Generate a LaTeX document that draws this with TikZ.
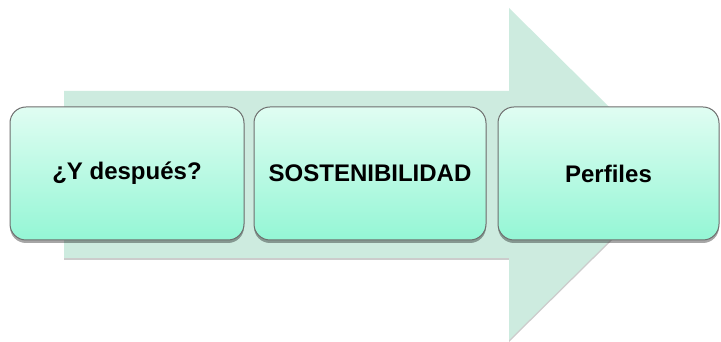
\documentclass[tikz,border=0pt]{standalone}
\usepackage{fontspec}
\setmainfont{Liberation Sans}
\usetikzlibrary{shadows}
\definecolor{arrowfill}{HTML}{CDEBDF}
\definecolor{boxtop}{HTML}{E0FDF2}
\definecolor{boxbot}{HTML}{94F6D5}
\definecolor{boxline}{HTML}{6E6E6E}
\tikzset{
  stagebox/.style={draw=boxline, line width=1pt, rounded corners=16pt,
    top color=boxtop, bottom color=boxbot, minimum height=133pt,
    inner sep=0pt, font=\fontsize{24}{28}\selectfont\bfseries,
    drop shadow={shadow xshift=0pt, shadow yshift=-3pt, opacity=0.35, fill=black}},
  bigarrow/.style={fill=arrowfill, draw=none,
    drop shadow={shadow xshift=0pt, shadow yshift=-2pt, opacity=0.2, fill=black}}
}
\begin{document}
\begin{tikzpicture}[x=1pt,y=1pt]
\useasboundingbox (0,0) rectangle (721,342);
\fill[white] (0,0) rectangle (721,342);
\path[bigarrow] (64,251) -- (509,251) -- (509,334) -- (677,168) -- (509,2) -- (509,84) -- (64,84) -- cycle;
\node[stagebox, minimum width=234pt] (a) at (127,168.5) {¿Y después?};
\node[stagebox, minimum width=232pt] (b) at (370,168.5) {SOSTENIBILIDAD};
\node[stagebox, minimum width=221pt] (c) at (608.5,168.5) {Perfiles};
\end{tikzpicture}
\end{document}
